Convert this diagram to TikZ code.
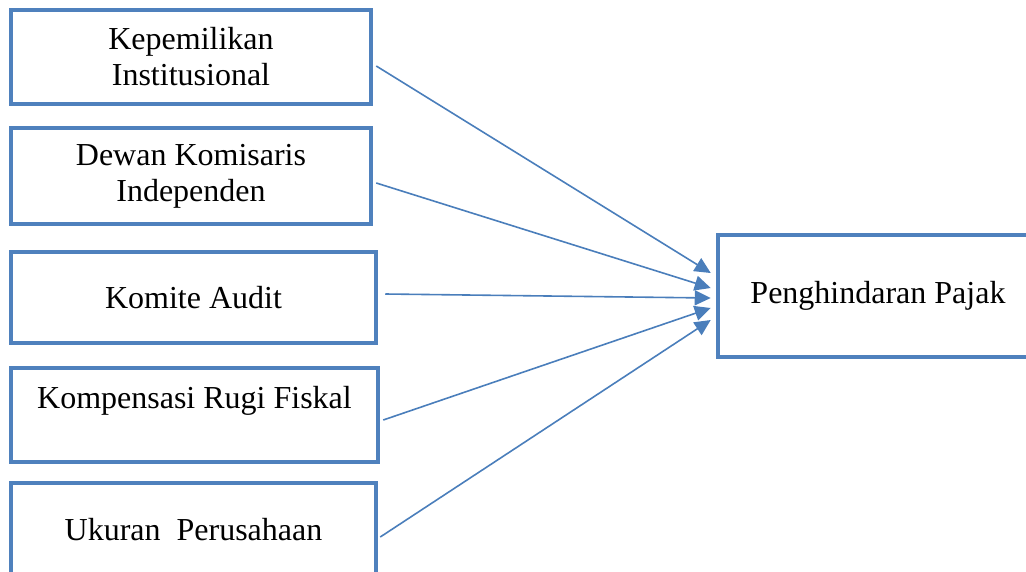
\documentclass[tikz,border=0pt]{standalone}
\usepackage{fontspec}
\setmainfont{Liberation Serif}
\usetikzlibrary{calc,arrows.meta}
\definecolor{boxblue}{RGB}{79,129,189}
\definecolor{linkblue}{RGB}{74,126,187}

\begin{document}
\begin{tikzpicture}[x=1pt,y=-1pt,
	var/.style={draw=boxblue,line width=4.5pt,align=center,inner sep=0pt,font=\fontsize{32}{36}\selectfont},
	link/.style={draw=linkblue,line width=1.6pt,-{Triangle[length=16pt,width=15pt]}}]

	\useasboundingbox (0,0) rectangle (1026,571);
	\clip (0,0) rectangle (1026,571);

	\node[var,minimum width=360pt,minimum height=94pt] (kep) at (191,57) {Kepemilikan\\Institusional};
	\node[var,minimum width=360pt,minimum height=96pt] (dki) at (191,176) {Dewan Komisaris\\Independen};
	\node[var,minimum width=365pt,minimum height=91pt] (ka) at (193.5,297.5) {Komite Audit};
	\node[var,minimum width=367pt,minimum height=94pt] (krf) at (194.5,415) {Kompensasi Rugi Fiskal\\~};
	\node[var,minimum width=365pt,minimum height=94pt] (up) at (193.5,530) {Ukuran\ \ Perusahaan};

	\node[var,minimum width=320pt,minimum height=122pt] (pp) at (878,296) {Penghindaran Pajak};

	\foreach \a/\dx/\dy/\ey in {kep/3/9/-23, dki/3/7/-8, ka/7/-3.5/2, krf/3/5/12, up/2/7/24}
	{
		\draw[link] ([shift={(\dx,\dy)}]\a.east) -- ([shift={(-5,\ey)}]pp.west);
	}

\end{tikzpicture}
\end{document}
